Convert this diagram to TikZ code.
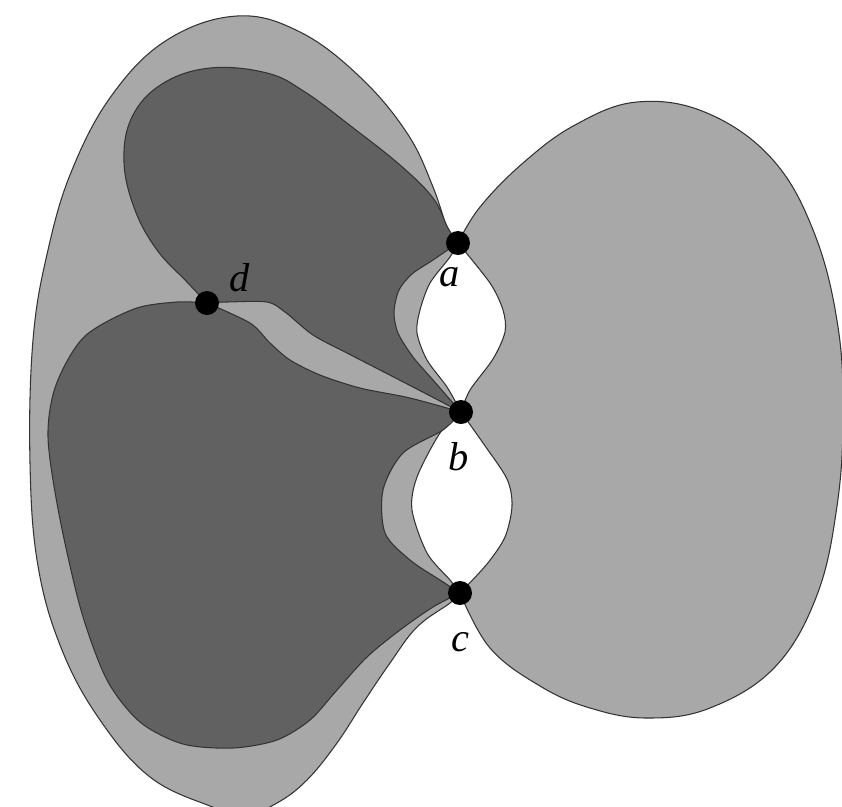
\documentclass[tikz,border=0pt]{standalone}
\usepackage{fontspec}
\setmainfont{Liberation Serif}
\usepackage{tikz}

\definecolor{lightfill}{gray}{0.66}
\definecolor{darkfill}{gray}{0.38}
\tikzset{region/.style={draw=black!80, line width=0.6pt},
         round/.style={smooth, tension=0.65}}

\begin{document}
\begin{tikzpicture}[x=0.02cm,y=-0.02cm]
\clip (0,0) rectangle (842,806);
\fill[white] (0,0) rectangle (842,806);

\coordinate (a) at (458,243);
\coordinate (b) at (461,412);
\coordinate (c) at (460,593);
\coordinate (d) at (207,303);

% big left region
\path[region, fill=lightfill]
    plot[smooth] coordinates {(a) (450,257) (430,283) (420,310) (417,333) (427,360) (447,387) (b)}
 -- plot[smooth] coordinates {(b) (440,433) (417,477) (412,510) (427,553) (450,580) (c)}
 -- plot[round] coordinates {(c) (450,603) (417,627) (390,663) (363,703) (337,743) (307,780)
      (277,803) (245,815) (210,806) (150,777) (100,720) (62,650) (38,566) (30,463) (33,340)
      (48,250) (72,170) (112,95) (167,40) (237,16) (300,32) (360,77) (407,133) (433,187) (450,237) (a)}
 -- cycle;

% right region
\path[region, fill=lightfill]
    plot[round] coordinates {(a) (480,207) (523,163) (575,125) (637,102) (707,113) (773,160)
      (815,235) (838,327) (843,417) (837,506) (817,595) (775,667) (710,708) (647,718)
      (590,708) (540,686) (490,648) (c)}
 -- plot[smooth] coordinates {(c) (487,564) (505,537) (512,506) (507,479) (483,443) (b)}
 -- plot[smooth] coordinates {(b) (470,390) (493,359) (505,332) (503,310) (490,283) (a)}
 -- cycle;

% upper dark region
\path[region, fill=darkfill]
    plot[round] coordinates {(d) (187,282) (157,250) (135,210) (124,162) (132,117) (162,84)
      (210,68) (267,73) (305,92) (352,127) (400,165) (433,198) (448,228) (a)}
 -- plot[smooth] coordinates {(a) (433,260) (412,274) (399,290) (394,312) (398,333) (413,357)
      (433,380) (453,403) (b)}
 -- plot[smooth] coordinates {(b) (413,387) (380,370) (347,353) (313,335) (285,312) (267,302)
      (227,302) (d)}
 -- cycle;

% lower dark region
\path[region, fill=darkfill]
    plot[smooth] coordinates {(d) (250,323) (270,343) (290,360) (320,375) (360,388) (410,398) (b)}
 -- plot[smooth] coordinates {(b) (443,430) (403,453) (383,490) (385,533) (410,560) (440,580) (c)}
 -- plot[smooth] coordinates {(c) (433,607) (400,630) (367,657) (337,690) (310,720) (277,740)
      (233,748) (183,744) (140,722) (107,680) (81,610) (59,514) (48,437) (56,385) (84,337)
      (134,309) (177,302) (d)}
 -- cycle;

\begin{scope}[every node/.style={circle,fill,inner sep=0pt,minimum size=0.48cm}]
    \node (pa) at (a) {};
    \node (pb) at (b) {};
    \node (pc) at (c) {};
    \node (pd) at (d) {};
\end{scope}

\begin{scope}[every node/.style={font=\fontsize{23}{27}\selectfont\itshape}]
    \node (la) at (450,277) {a};
    \node (lb) at (459,457) {b};
    \node (lc) at (460,642) {c};
    \node (ld) at (240,278) {d};
\end{scope}
\end{tikzpicture}
\end{document}
